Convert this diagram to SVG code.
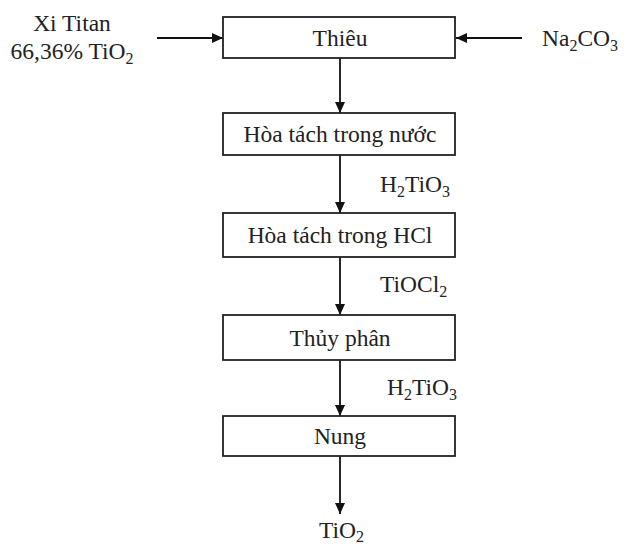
<svg xmlns="http://www.w3.org/2000/svg" width="627" height="545" viewBox="0 0 627 545">
<defs>
<marker id="ah" markerWidth="12" markerHeight="12" refX="11" refY="6" orient="auto" markerUnits="userSpaceOnUse">
<path d="M0,1 L11,6 L0,11 Z" fill="#111"/>
</marker>
<style>
text{font-family:"Liberation Serif","Times New Roman",serif;font-size:23.5px;fill:#222}
.box{fill:#fff;stroke:#222;stroke-width:1.8}
.c{text-anchor:middle}
.con line{stroke:#111;stroke-width:1.8;marker-end:url(#ah)}
</style>
</defs>
<rect width="627" height="545" fill="#fff"/>
<g class="con" id="connectors">
<line x1="157" y1="38" x2="223" y2="38"/>
<line x1="522" y1="38" x2="456" y2="38"/>
<line x1="340" y1="58" x2="340" y2="113"/>
<line x1="340" y1="155" x2="340" y2="213"/>
<line x1="340" y1="257" x2="340" y2="315"/>
<line x1="340" y1="360" x2="340" y2="416"/>
<line x1="340" y1="456" x2="340" y2="514"/>
</g>
<g id="n1"><rect class="box" x="223" y="17" width="232" height="41"/><text class="c" x="340" y="46">Thiêu</text></g>
<g id="n2"><rect class="box" x="223" y="113" width="232" height="42"/><text class="c" x="340" y="142">Hòa tách trong nước</text></g>
<g id="n3"><rect class="box" x="223" y="213" width="232" height="44"/><text class="c" x="340" y="243">Hòa tách trong HCl</text></g>
<g id="n4"><rect class="box" x="223" y="315" width="232" height="45"/><text class="c" x="340" y="346">Thủy phân</text></g>
<g id="n5"><rect class="box" x="223" y="416" width="232" height="40"/><text class="c" x="340" y="444">Nung</text></g>
<g id="in-left"><text class="c" x="72" y="31">Xi Titan</text><text class="c" x="72" y="59">66,36% TiO<tspan font-size="16" dy="5">2</tspan></text></g>
<g id="in-right"><text x="542" y="46">Na<tspan font-size="16" dy="5">2</tspan><tspan dy="-5">CO</tspan><tspan font-size="16" dy="5">3</tspan></text></g>
<g id="l1"><text x="380" y="192">H<tspan font-size="16" dy="5">2</tspan><tspan dy="-5">TiO</tspan><tspan font-size="16" dy="5">3</tspan></text></g>
<g id="l2"><text x="380" y="292">TiOCl<tspan font-size="16" dy="5">2</tspan></text></g>
<g id="l3"><text x="387" y="395">H<tspan font-size="16" dy="5">2</tspan><tspan dy="-5">TiO</tspan><tspan font-size="16" dy="5">3</tspan></text></g>
<g id="out"><text x="319" y="538">TiO<tspan font-size="16" dy="4">2</tspan></text></g>
</svg>
